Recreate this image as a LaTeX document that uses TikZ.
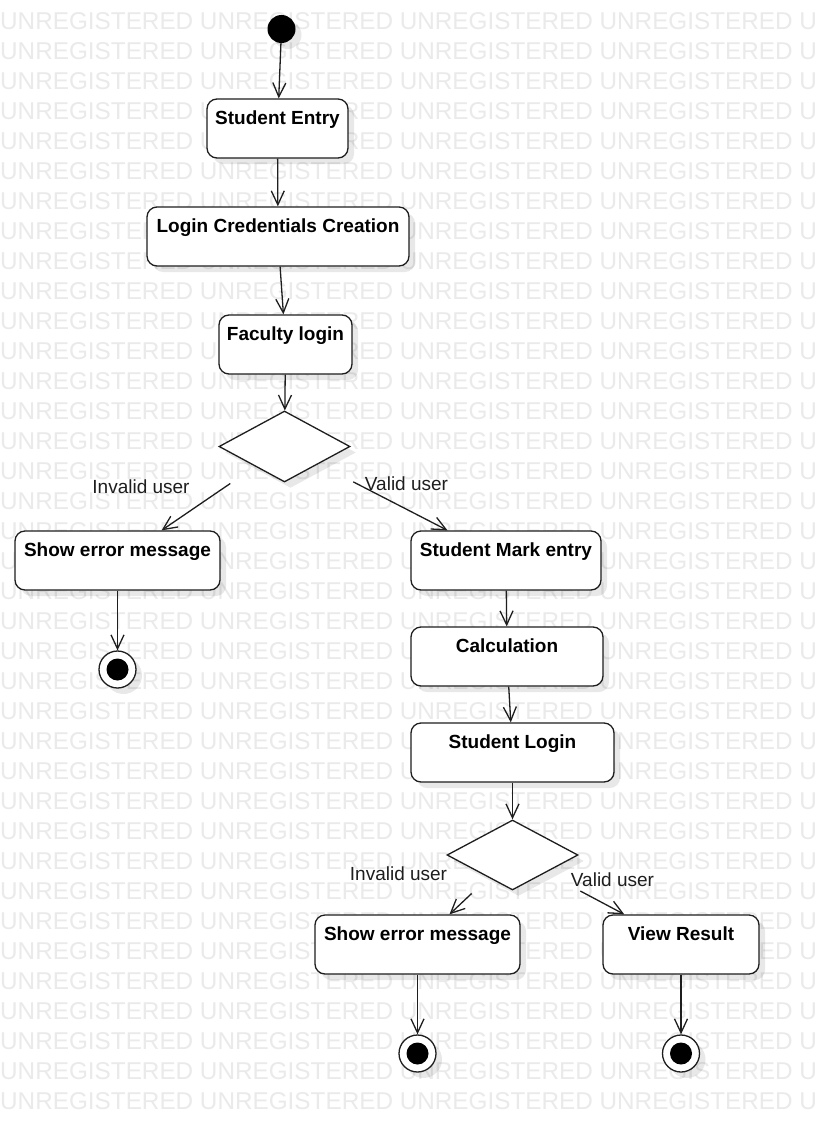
\documentclass[tikz,border=0pt]{standalone}
\usepackage{fontspec}
\setmainfont{Liberation Sans}
\usetikzlibrary{arrows.meta,shapes.geometric,shadows}
\definecolor{wm}{RGB}{234,234,234}
\definecolor{ln}{RGB}{30,30,30}
\begin{document}
\begin{tikzpicture}[x=1pt,y=-1pt,
  shd/.style={drop shadow={shadow xshift=6pt,shadow yshift=-6pt,opacity=0.09,fill=black}},
  act/.style={draw=ln, line width=1.3pt, fill=white, rounded corners=10pt, minimum height=59pt,
    inner xsep=0pt, inner ysep=0pt, text height=25pt, text depth=34pt,
    font=\fontsize{19}{22}\selectfont\bfseries, shd},
  dec/.style={diamond, draw=ln, line width=1.3pt, fill=white, inner sep=0pt, shd},
  lbl/.style={font=\fontsize{19}{22}\selectfont, inner sep=0pt, text=ln},
  arr/.style={draw=ln, line width=1.3pt, -{Straight Barb[length=14pt,width=13pt]}},
  ini/.style={circle, fill=black, minimum size=28pt, inner sep=0pt, shd},
  fin/.style={circle, draw=ln, line width=1.3pt, fill=white, minimum size=37pt, inner sep=0pt, shd},
  dot/.style={circle, fill=black, minimum size=22pt, inner sep=0pt},
  wmk/.style={font=\fontsize{24.3}{26}\selectfont, text=wm, inner sep=0pt, anchor=base west}
]
\useasboundingbox[fill=white] (0,0) rectangle (819,1132);
\foreach \r in {0,...,36}{
  \node[wmk] (w\r) at (0,29.5+30*\r) {UNREGISTERED UNREGISTERED UNREGISTERED UNREGISTERED U};
}
% nodes
\node[ini] (init) at (281.5,29) {};
\node[act, minimum width=141pt] (se) at (277.5,128.5) {Student Entry};
\node[act, minimum width=262pt] (lc) at (278,236.5) {Login Credentials Creation};
\node[act, minimum width=133pt] (fl) at (285.5,344.5) {Faculty login};
\node[dec, minimum width=131pt, minimum height=71pt] (d1) at (284.5,446.5) {};
\node[act, minimum width=205pt] (err1) at (117.5,560.5) {Show error message};
\node[fin] (f1) at (117.5,669.5) {};
\node[dot] (f1d) at (117.5,669.5) {};
\node[act, minimum width=190pt] (sme) at (506,560.5) {Student Mark entry};
\node[act, minimum width=192pt] (calc) at (507,656.5) {Calculation};
\node[act, minimum width=203pt] (sl) at (512.5,752.5) {Student Login};
\node[dec, minimum width=131pt, minimum height=70pt] (d2) at (512.5,855) {};
\node[act, minimum width=205pt] (err2) at (417.5,944.5) {Show error message};
\node[act, minimum width=156pt] (vr) at (681,944.5) {View Result};
\node[fin] (f2) at (417.5,1053.5) {};
\node[dot] (f2d) at (417.5,1053.5) {};
\node[fin] (f3) at (681,1053.5) {};
\node[dot] (f3d) at (681,1053.5) {};
% labels
\node[lbl] (l1) at (141,487) {Invalid user};
\node[lbl] (l2) at (406.5,484) {Valid user};
\node[lbl] (l3) at (398.5,874) {Invalid user};
\node[lbl] (l4) at (612.5,879.5) {Valid user};
% connectors
\draw[arr] (init) -- (se);
\draw[arr] (se) -- (lc);
\draw[arr] (lc) -- (fl);
\draw[arr] (fl) -- (d1);
\draw[arr, shorten <=30pt] (d1) -- (err1);
\draw[arr, shorten <=39pt] (d1) -- (sme);
\draw[arr] (err1) -- (f1);
\draw[arr] (sme) -- (calc);
\draw[arr] (calc) -- (sl);
\draw[arr] (sl) -- (d2);
\draw[arr, shorten <=23pt] (d2) -- (err2);
\draw[arr, shorten <=39pt] (d2) -- (vr);
\draw[arr] (err2) -- (f2);
\draw[arr] (vr) -- (f3);
\end{tikzpicture}
\end{document}
